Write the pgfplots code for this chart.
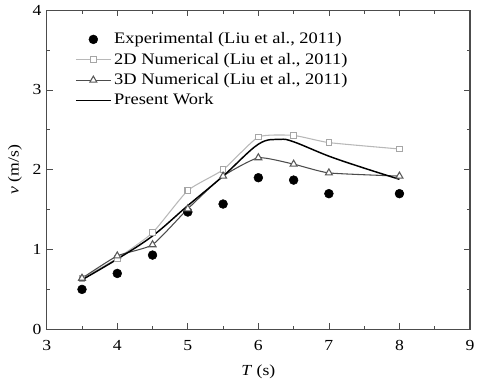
\documentclass[border=0pt]{standalone}
\usepackage{fontspec}
\setmainfont{Liberation Serif}[FakeStretch=1.15]
\usepackage{pgfplots}
\pgfplotsset{compat=1.18}
\begin{document}
\fontsize{11.5}{13.5}\selectfont
\begin{tikzpicture}
\begin{axis}[
  scale only axis, width=317pt, height=239pt,
  xmin=3, xmax=9, ymin=0, ymax=4,
  xtick={3,4,...,9}, ytick={0,1,2,3,4},
  minor x tick num=1, minor y tick num=1,
  tick align=inside, tick pos=both,
  major tick length=4.5pt, minor tick length=2.5pt,
  axis line style={draw=black!70, line width=0.8pt},
  every tick/.style={draw=black!70, line width=0.6pt},
  /pgf/number format/assume math mode=true,
  ticklabel style={font=\fontsize{11.5}{13.5}\selectfont},
  xticklabel style={yshift=-4pt},
  xlabel={\textit{T} (s)}, ylabel={\textit{v} (m/s)},
  xlabel style={yshift=-3pt},
  label style={font=\fontsize{11.5}{13.5}\selectfont},
  legend style={at={(0.057,0.947)}, anchor=north west, draw=none, fill=none,
    font=\fontsize{12}{14}\selectfont, row sep=1.2pt,
    /tikz/every even column/.append style={column sep=0pt},
    nodes={inner xsep=2pt}},
  legend cell align=left,
  legend image code/.code={\draw[mark repeat=2,mark phase=2,#1] plot coordinates {(0cm,0cm) (0.46cm,0cm) (0.92cm,0cm)};},
]
\addplot[only marks, mark=*, mark size=3.3pt, black] coordinates {
(3.5,0.50) (4,0.70) (4.5,0.93) (5,1.47) (5.5,1.57) (6,1.90) (6.5,1.87) (7,1.70) (8,1.70)};
\addlegendentry{Experimental (Liu et al., 2011)}
\addplot[color=black!28, line width=0.8pt, smooth, tension=0.3, mark=square*, mark size=2.1pt,
  mark options={fill=white, draw=black!35, solid}] coordinates {
(3.5,0.64) (4,0.89) (4.5,1.21) (5,1.74) (5.5,2.00) (6,2.41) (6.5,2.43) (7,2.34) (8,2.26)};
\addlegendentry{2D Numerical (Liu et al., 2011)}
\addplot[color=black!70, line width=0.8pt, smooth, tension=0.3, mark=triangle*, mark size=3pt,
  mark options={fill=white, draw=black!65, solid}] coordinates {
(3.5,0.64) (4,0.92) (4.5,1.06) (5,1.51) (5.5,1.92) (6,2.15) (6.5,2.07) (7,1.96) (8,1.92)};
\addlegendentry{3D Numerical (Liu et al., 2011)}
\addplot[black, line width=1.1pt, smooth, tension=0.6] coordinates {
(3.5,0.62) (4,0.88) (4.5,1.17) (5,1.55) (5.5,1.92) (6,2.32) (6.3,2.38) (6.5,2.35) (7,2.17) (7.5,2.02) (8,1.88)};
\addlegendentry{Present Work}
\end{axis}
\useasboundingbox (current axis.south west) ++(-35pt,-43pt) rectangle ([xshift=7.5pt,yshift=7.5pt]current axis.north east);
\end{tikzpicture}
\end{document}
